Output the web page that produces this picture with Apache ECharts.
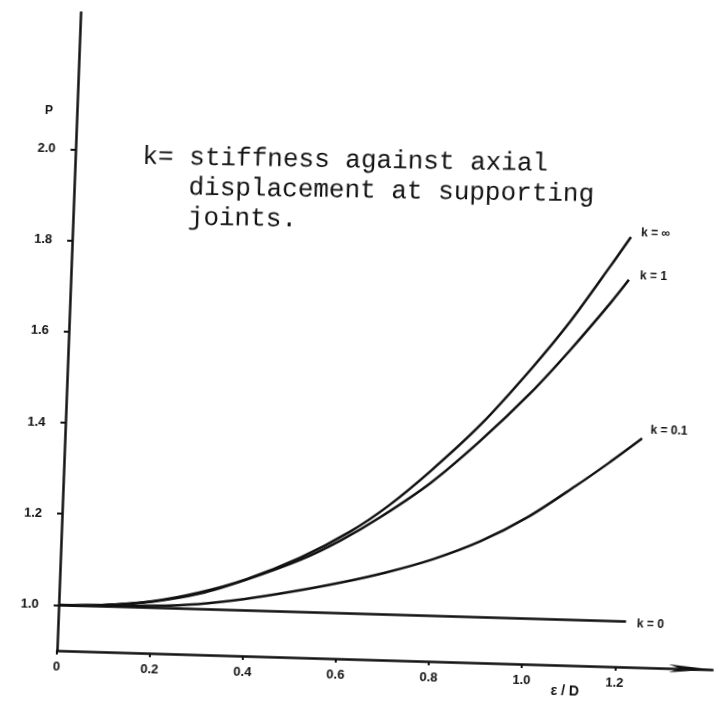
<!DOCTYPE html>
<html>
<head>
<meta charset="utf-8">
<script src="https://cdn.jsdelivr.net/npm/echarts@6/dist/echarts.min.js"></script>
<style>
html,body{margin:0;padding:0;background:#fff;overflow:hidden;}
#wrap{width:714px;height:703px;transform-origin:57px 651px;transform:matrix(1,0.029,-0.037,1,0,0);}
#c{width:714px;height:703px;}
</style>
</head>
<body>
<div id="wrap"><div id="c"></div></div>
<script>
// tick values
const xTicks = [0, 0.2, 0.4, 0.6, 0.8, 1.0, 1.2];
const yTicks = [1.0, 1.2, 1.4, 1.6, 1.8, 2.0];

// curve labels
const kLabels = ['k = \u221e', 'k = 1', 'k = 0.1', 'k = 0'];

// k = infinity
const xInf = [0, 0.1, 0.2, 0.3, 0.4, 0.515, 0.621, 0.7, 0.788, 0.892, 0.995, 1.077, 1.159, 1.2];
const pInf = [1.0, 1.003, 1.014, 1.036, 1.068, 1.119, 1.180, 1.238, 1.317, 1.422, 1.546, 1.655, 1.779, 1.843];

// k = 1
const xK1 = [0, 0.1, 0.2, 0.303, 0.4, 0.515, 0.6, 0.684, 0.789, 0.893, 0.997, 1.079, 1.162, 1.199];
const pK1 = [1.0, 1.003, 1.013, 1.034, 1.067, 1.114, 1.159, 1.213, 1.291, 1.387, 1.495, 1.592, 1.698, 1.749];

// k = 0.1
const xK01 = [0, 0.1, 0.2, 0.3, 0.4, 0.5, 0.6, 0.7, 0.8, 0.9, 1.0, 1.1, 1.17, 1.24];
const pK01 = [1.0, 1.001, 1.004, 1.011, 1.025, 1.044, 1.066, 1.092, 1.124, 1.166, 1.222, 1.293, 1.346, 1.402];

// k = 0
const xK0 = [0, 0.2, 0.4, 0.6, 0.8, 1.0, 1.22];
const pK0 = [1.0, 1.0, 1.0, 1.0, 1.0, 1.0, 1.0];

const curves = [
  {x: xInf, p: pInf, label: kLabels[0], off: [2, -4]},
  {x: xK1, p: pK1, label: kLabels[1], off: [3, -4]},
  {x: xK01, p: pK01, label: kLabels[2], off: [0, -8]},
  {x: xK0, p: pK0, label: kLabels[3], off: [3, 2]}
];

const ink = '#111';
const chart = echarts.init(document.getElementById('c'), null, {renderer: 'canvas'});

const series = curves.map(c => ({
  type: 'line',
  data: c.x.map((v, i) => [v, c.p[i]]),
  showSymbol: false,
  symbol: 'none',
  smooth: 0.3,
  lineStyle: {color: ink, width: 2.5},
  endLabel: {
    show: true,
    formatter: c.label,
    offset: c.off,
    color: ink,
    fontFamily: 'Liberation Sans',
    fontWeight: 'bold',
    fontSize: 12
  },
  emphasis: {disabled: true}
}));

chart.setOption({
  animation: false,
  backgroundColor: '#fff',
  grid: {left: 57, right: 1, top: 12.6, bottom: 52, containLabel: false},
  xAxis: {
    type: 'value',
    min: 0, max: 1.41,
    interval: 0.2,
    splitLine: {show: false},
    axisLine: {show: true, lineStyle: {color: ink, width: 2.5}, symbol: ['none', 'arrow'], symbolSize: [6, 44]},
    axisTick: {show: true, customValues: xTicks, length: 4, lineStyle: {color: ink, width: 2}},
    axisLabel: {
      customValues: xTicks,
      formatter: v => (v === 0 ? '0' : v.toFixed(1)),
      color: ink, fontFamily: 'Liberation Sans', fontWeight: 'bold', fontSize: 13, margin: 10
    }
  },
  yAxis: {
    type: 'value',
    min: 0.9, max: 2.3,
    interval: 0.1,
    splitLine: {show: false},
    axisLine: {show: true, lineStyle: {color: ink, width: 2.5}},
    axisTick: {show: true, customValues: yTicks, length: 5, lineStyle: {color: ink, width: 2}},
    axisLabel: {
      customValues: yTicks,
      formatter: v => v.toFixed(1),
      color: ink, fontFamily: 'Liberation Sans', fontWeight: 'bold', fontSize: 13, margin: 20
    }
  },
  graphic: [
    {type: 'text', left: 25, top: 106, style: {text: 'P', fill: ink, font: 'bold 12px "Liberation Sans"'}},
    {type: 'text', x: 124, y: 140, rotation: 0.012, style: {
      text: 'k= stiffness against axial\n   displacement at supporting\n   joints.',
      fill: ink, font: '26px "Liberation Mono"', lineHeight: 30, textVerticalAlign: 'top'}},
    {type: 'text', x: 566, y: 677, style: {text: '\u03b5 / D', fill: ink, font: 'bold 14px "Liberation Sans"', textAlign: 'center', textVerticalAlign: 'middle'}}
  ],
  series: series
});
</script>
</body>
</html>
